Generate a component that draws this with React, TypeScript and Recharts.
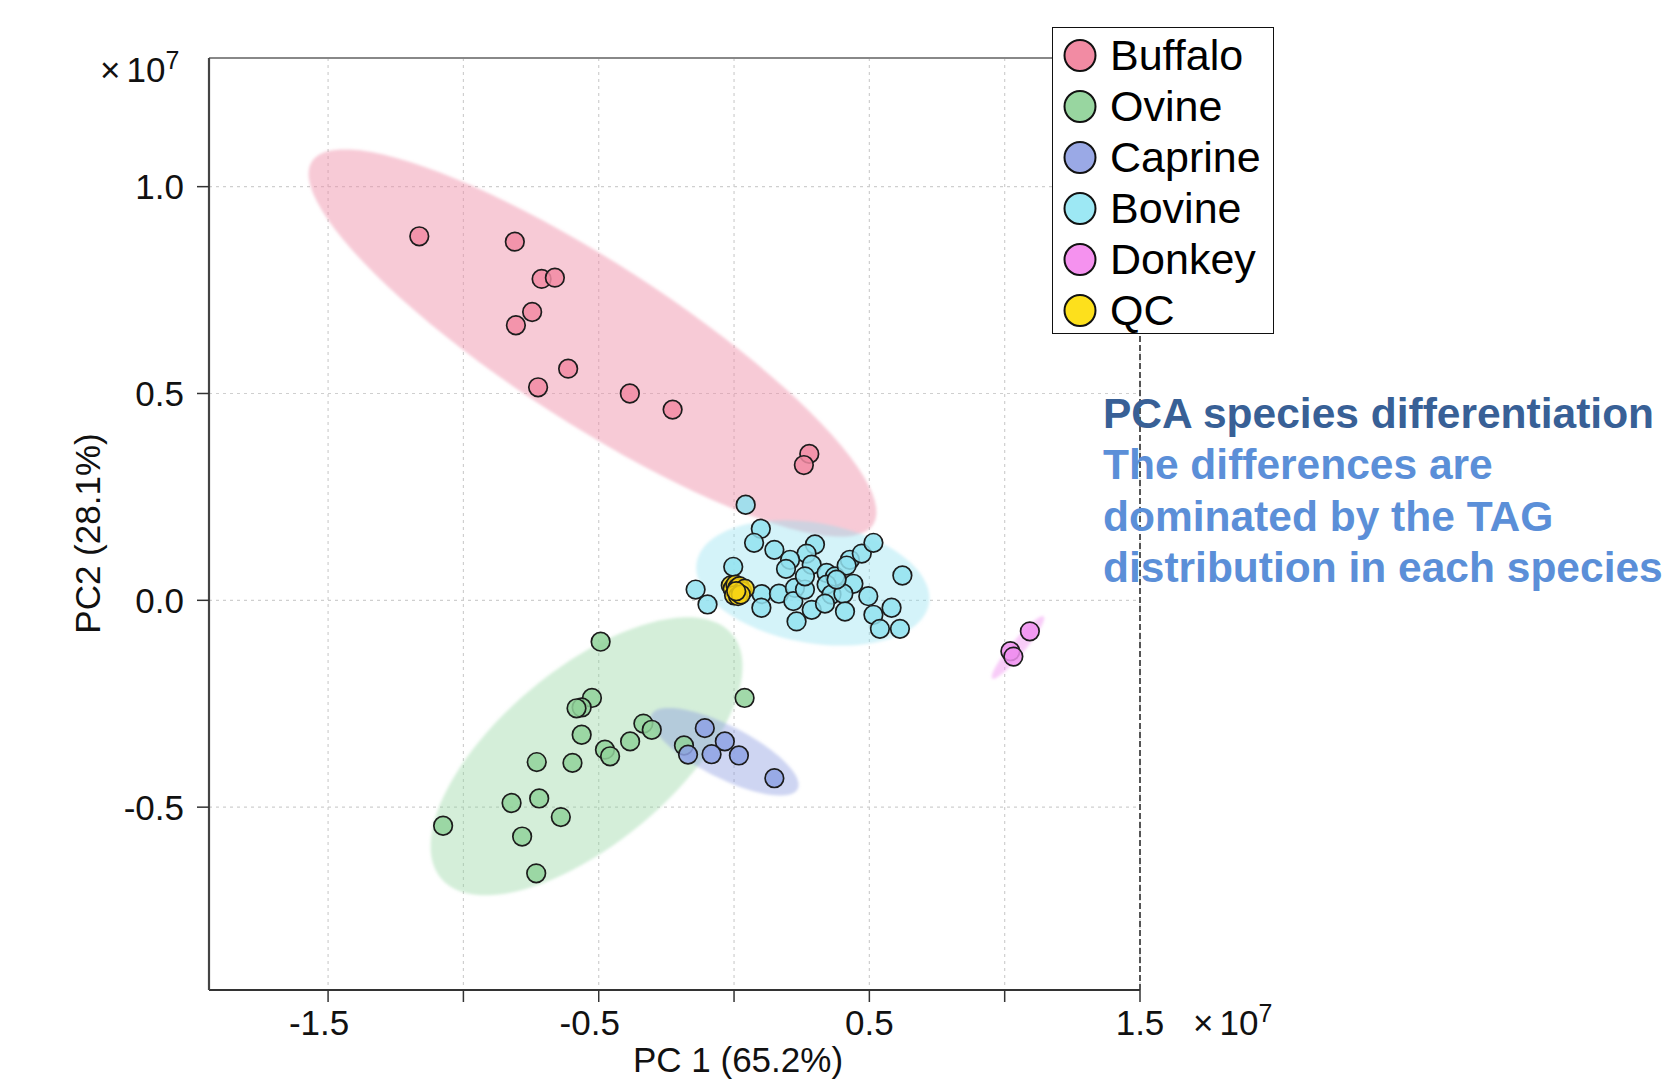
import React from "react";
import { ScatterChart, Scatter, XAxis, YAxis, CartesianGrid, ReferenceLine, Legend } from "recharts";

// values are in units of 1e7
const X_DOMAIN = [-1.94, 1.5];
const Y_DOMAIN = [-0.942, 1.311];
const X_TICKS = [-1.5, -1, -0.5, 0, 0.5, 1, 1.5];
const X_LABELED = [-1.5, -0.5, 0.5, 1.5];
const Y_TICKS = [-0.5, 0, 0.5, 1];
const SPECIES = ["Buffalo", "Ovine", "Caprine", "Bovine", "Donkey", "QC"];

const buffalo: [number, number][] = [
  [-1.163, 0.88], [-0.81, 0.867], [-0.711, 0.777], [-0.662, 0.78], [-0.746, 0.697], [-0.806, 0.665],
  [-0.613, 0.56], [-0.724, 0.515], [-0.385, 0.5], [-0.227, 0.461], [0.278, 0.354], [0.258, 0.327],
];

const ovine: [number, number][] = [
  [-0.493, -0.1], [-0.525, -0.236], [-0.563, -0.259], [-0.582, -0.261], [0.039, -0.236], [-0.335, -0.298],
  [-0.304, -0.313], [-0.563, -0.325], [-0.384, -0.341], [-0.477, -0.361], [-0.458, -0.377], [-0.185, -0.351],
  [-0.729, -0.391], [-0.597, -0.393], [-0.822, -0.49], [-0.72, -0.479], [-0.64, -0.524], [-1.075, -0.545],
  [-0.783, -0.571], [-0.731, -0.66],
];

const caprine: [number, number][] = [
  [-0.17, -0.373], [-0.108, -0.309], [-0.034, -0.341], [-0.083, -0.372], [0.018, -0.375], [0.149, -0.43],
];

const bovine: [number, number][] = [
  [0.043, 0.231], [0.099, 0.173], [0.074, 0.139], [0.149, 0.122], [-0.003, 0.081], [0.299, 0.135],
  [0.268, 0.113], [0.207, 0.098], [0.287, 0.086], [0.192, 0.076], [0.342, 0.066], [0.373, 0.058],
  [0.428, 0.098], [0.472, 0.113], [0.515, 0.139], [0.416, 0.084], [0.622, 0.06], [-0.142, 0.026],
  [-0.098, -0.01], [0.102, 0.015], [0.101, -0.018], [0.166, 0.016], [0.225, 0.03], [0.219, -0.002],
  [0.262, 0.026], [0.287, -0.023], [0.231, -0.051], [0.342, 0.038], [0.36, 0.014], [0.336, -0.008],
  [0.441, 0.04], [0.404, 0.016], [0.41, -0.027], [0.496, 0.01], [0.515, -0.035], [0.539, -0.069],
  [0.582, -0.018], [0.613, -0.069], [0.379, 0.05], [0.262, 0.058],
];

const donkey: [number, number][] = [[1.093, -0.075], [1.021, -0.123], [1.032, -0.136]];

const qc: [number, number][] = [
  [-0.012, 0.036], [-0.005, 0.028], [0.005, 0.038], [0.012, 0.03], [0.02, 0.034], [0.03, 0.022],
  [0.04, 0.028], [0.0, 0.012], [0.015, 0.01], [0.025, 0.014], [0.008, 0.022],
];

// confidence ellipses: centre, semi-axis vector u, semi-axis vector v (data units)
const BUFFALO_ELLIPSE = [-0.523, 0.622, 1.037, -0.439, -0.16, -0.163];
const OVINE_ELLIPSE = [-0.545, -0.377, 0.538, 0.295, 0.207, -0.161];
const CAPRINE_ELLIPSE = [-0.035, -0.366, 0.27, -0.09, -0.044, -0.056];
const BOVINE_ELLIPSE = [0.291, 0.042, 0.429, -0.05, -0.038, -0.143];
const DONKEY_ELLIPSE = [1.049, -0.114, 0.095, 0.075, 0.02, -0.011];

const toRows = (pts: [number, number][]) => pts.map(([x, y]) => ({ x, y }));

const outline = (e: number[]) => {
  const [cx, cy, ux, uy, vx, vy] = e;
  const rows = [];
  for (let i = 0; i < 96; i++) {
    const t = (i / 96) * Math.PI * 2;
    rows.push({ x: cx + Math.cos(t) * ux + Math.sin(t) * vx, y: cy + Math.cos(t) * uy + Math.sin(t) * vy });
  }
  return rows;
};

const ellipseLine = (fill: string, opacity: number) => (props: any) => {
  const pts = props.points || [];
  const d = pts.map((p: any, i: number) => `${i ? "L" : "M"}${p.x},${p.y}`).join(" ") + " Z";
  return <path d={d} fill={fill} fillOpacity={opacity} stroke="none" filter="url(#soft)" />;
};

const NoShape = () => <g />;

const dot = (fill: string) => (props: any) => (
  <circle cx={props.cx} cy={props.cy} r={9.3} fill={fill} fillOpacity={0.85} stroke="#1c1c1c" strokeWidth={1.7} />
);

const FONT = "Arial, 'Liberation Sans', sans-serif";

const XTick = (props: any) => {
  const { x, y, payload } = props;
  const v = payload.value;
  if (!X_LABELED.includes(v)) return <g />;
  return (
    <text x={x} y={y} dy="0.71em" dx={v < 0 ? -9 : 0} textAnchor="middle" fontSize={35} fill="#111" fontFamily={FONT}>
      {v.toFixed(1)}
    </text>
  );
};

const LegendBox = (props: any) => {
  const items = (props.payload || [])
    .filter((p: any) => p.type !== "none")
    .sort((a: any, b: any) => SPECIES.indexOf(a.value) - SPECIES.indexOf(b.value));
  return (
    <div style={{ width: 222, height: 307, border: "1.5px solid #111", background: "#fff", boxSizing: "border-box", paddingTop: 1.5, fontFamily: FONT }}>
      {items.map((it: any) => (
        <div key={it.value} style={{ height: 51, display: "flex", alignItems: "center" }}>
          <svg width={57} height={51} style={{ flex: "none" }}>
            <circle cx={27} cy={25.5} r={15.5} fill={it.color} stroke="#111" strokeWidth={2} />
          </svg>
          <span style={{ fontSize: 43, color: "#000", lineHeight: "51px" }}>{it.value}</span>
        </div>
      ))}
    </div>
  );
};

export default function App() {
  return (
    <div style={{ position: "absolute", left: 0, top: 0, width: 1673, height: 1079, background: "#fff" }}>
      <ScatterChart width={1673} height={1079} margin={{ top: 58, right: 533, bottom: 29, left: 89 }}>
        <defs>
          <filter id="soft" x="-10%" y="-10%" width="120%" height="120%">
            <feGaussianBlur stdDeviation="1.5" />
          </filter>
        </defs>
        <CartesianGrid stroke="#cfcfcf" strokeDasharray="3 4" strokeWidth={1.2} />
        <XAxis
          type="number"
          dataKey="x"
          domain={X_DOMAIN}
          ticks={X_TICKS}
          interval={0}
          allowDataOverflow
          height={60}
          tickSize={12}
          tickMargin={8}
          tick={<XTick />}
          tickLine={{ stroke: "#333", strokeWidth: 1.5 }}
          axisLine={{ stroke: "#333", strokeWidth: 2.2 }}
        />
        <YAxis
          type="number"
          dataKey="y"
          domain={Y_DOMAIN}
          ticks={Y_TICKS}
          interval={0}
          allowDataOverflow
          width={120}
          tickSize={12}
          tickMargin={13}
          tickFormatter={(v: number) => v.toFixed(1)}
          tick={{ fontSize: 35, fill: "#111", fontFamily: FONT }}
          tickLine={{ stroke: "#333", strokeWidth: 1.5 }}
          axisLine={{ stroke: "#444", strokeWidth: 2.2 }}
        />
        <ReferenceLine y={Y_DOMAIN[1]} stroke="#888" strokeWidth={2.2} />
        <ReferenceLine x={1.5} stroke="#555" strokeWidth={2} strokeDasharray="6 3" />

        <Scatter data={outline(BUFFALO_ELLIPSE)} legendType="none" shape={NoShape} line={ellipseLine("#ee8aa3", 0.45)} isAnimationActive={false} />
        <Scatter data={outline(OVINE_ELLIPSE)} legendType="none" shape={NoShape} line={ellipseLine("#8fd19a", 0.38)} isAnimationActive={false} />
        <Scatter data={outline(CAPRINE_ELLIPSE)} legendType="none" shape={NoShape} line={ellipseLine("#8597de", 0.4)} isAnimationActive={false} />
        <Scatter data={outline(BOVINE_ELLIPSE)} legendType="none" shape={NoShape} line={ellipseLine("#8fe0f0", 0.38)} isAnimationActive={false} />
        <Scatter data={outline(DONKEY_ELLIPSE)} legendType="none" shape={NoShape} line={ellipseLine("#f08ff0", 0.45)} isAnimationActive={false} />

        <Scatter name="Buffalo" data={toRows(buffalo)} fill="#f28ba3" shape={dot("#f28ba3")} isAnimationActive={false} />
        <Scatter name="Ovine" data={toRows(ovine)} fill="#98d6a0" shape={dot("#90d29a")} isAnimationActive={false} />
        <Scatter name="Caprine" data={toRows(caprine)} fill="#9aa9e6" shape={dot("#8ea2e4")} isAnimationActive={false} />
        <Scatter name="Bovine" data={toRows(bovine)} fill="#9de8f4" shape={dot("#92e2f0")} isAnimationActive={false} />
        <Scatter name="Donkey" data={toRows(donkey)} fill="#f592ef" shape={dot("#f08ff0")} isAnimationActive={false} />
        <Scatter name="QC" data={toRows(qc)} fill="#fde01c" shape={dot("#f7d414")} isAnimationActive={false} />

        <Legend
          layout="horizontal"
          verticalAlign="middle"
          align="center"
          content={<LegendBox />}
          wrapperStyle={{ left: 1052, top: 27, width: 222, height: 307 }}
        />
      </ScatterChart>

      <svg width={1673} height={1079} style={{ position: "absolute", left: 0, top: 0, pointerEvents: "none" }} fontFamily={FONT}>
        <text x={100} y={81.5} fontSize={35} fill="#111">
          ×<tspan dx={6}>10</tspan><tspan fontSize={25} dy={-13}>7</tspan>
        </text>
        <text x={1193} y={1035} fontSize={35} fill="#111">
          ×<tspan dx={6}>10</tspan><tspan fontSize={25} dy={-13}>7</tspan>
        </text>
        <text x={738} y={1072} fontSize={35} fill="#111" textAnchor="middle">PC 1 (65.2%)</text>
        <text x={87.5} y={533.5} fontSize={35} fill="#111" textAnchor="middle" dominantBaseline="central" transform="rotate(-90 87.5 533.5)">
          PC2 (28.1%)
        </text>
        <g fontSize={42.5} fontWeight="bold">
          <text x={1103} y={428} fill="#386096">PCA species differentiation</text>
          <text x={1103} y={479} fill="#5b8fd8">The differences are</text>
          <text x={1103} y={530.5} fill="#5b8fd8">dominated by the TAG</text>
          <text x={1103} y={582} fill="#5b8fd8">distribution in each species</text>
        </g>
      </svg>
    </div>
  );
}
